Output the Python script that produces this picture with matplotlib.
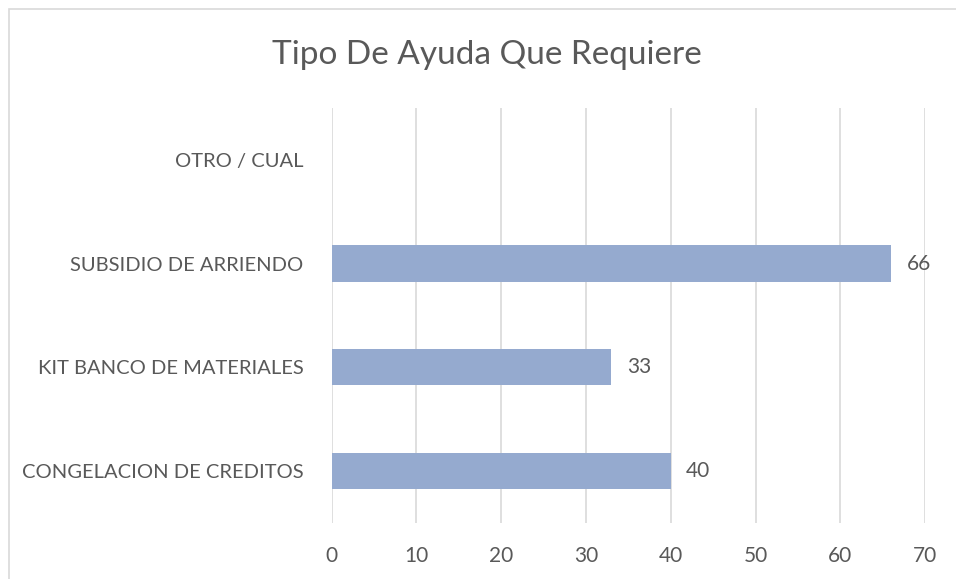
import matplotlib.pyplot as plt
from matplotlib.patches import Rectangle

categories = ["CONGELACION DE CREDITOS", "KIT BANCO DE MATERIALES", "SUBSIDIO DE ARRIENDO", "OTRO / CUAL"]
values = [40, 33, 66, 0]
xticks = [0, 10, 20, 30, 40, 50, 60, 70]

text_color = "#595959"
bar_color = "#95AACF"

plt.rcParams["font.family"] = ["Lato", "DejaVu Sans"]

fig = plt.figure(figsize=(9.56, 5.79), dpi=100)
ax = fig.add_axes([331.5 / 956, 1 - 522.75 / 579, (925.3 - 331.5) / 956, (522.75 - 108) / 579])

# chart border (light gray, extends past the right/bottom edges)
fig.patches.append(Rectangle((9 / 956, -0.1), 1.2, 1 - 9 / 579 + 0.1,
                             transform=fig.transFigure, fill=False,
                             edgecolor="#D9D9D9", linewidth=1.2))

pos = range(len(categories))
ax.barh(pos, values, height=0.35, color=bar_color, zorder=3)

for i, v in enumerate(values):
    if v > 0:
        ax.annotate(str(v), (v, i), xytext=(11, 0), textcoords="offset points",
                    va="center", ha="left", fontsize=15, color=text_color)

ax.set_xlim(0, 70)
ax.set_ylim(-0.5, len(categories) - 0.5)
ax.set_xticks(xticks)
ax.set_yticks(list(pos))
ax.set_yticklabels(categories)
ax.tick_params(axis="both", length=0, colors=text_color, labelsize=15)
ax.tick_params(axis="y", pad=20, labelsize=14.5)
ax.tick_params(axis="x", pad=17)
ax.grid(axis="x", color="#D9D9D9", linewidth=1.2, zorder=0)
for s in ax.spines.values():
    s.set_visible(False)

fig.text(487 / 956, 1 - 55 / 579, "Tipo De Ayuda Que Requiere", ha="center", va="center",
         fontsize=24, color=text_color)

fig.savefig("out.png", dpi=100)
